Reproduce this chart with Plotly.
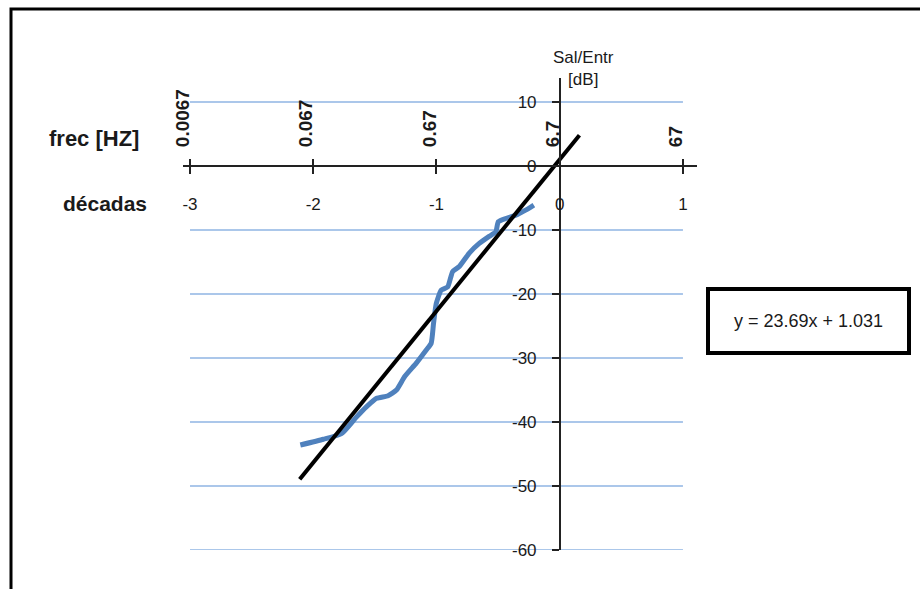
import plotly.graph_objects as go

# ---- data ----
decades = [-3, -2, -1, 0, 1]
freq_labels = ["0.0067", "0.067", "0.67", "6.7", "67"]
y_ticks = [10, 0, -10, -20, -30, -40, -50, -60]

meas_x = [-2.105, -1.917, -1.769, -1.648, -1.567, -1.486, -1.393, -1.325, -1.258,
          -1.164, -1.083, -1.043, -1.024, -1.002, -0.962, -0.909, -0.869, -0.815,
          -0.734, -0.653, -0.573, -0.519, -0.498, -0.438, -0.356, -0.277, -0.210]
meas_y = [-43.6, -42.7, -41.8, -39.2, -37.6, -36.3, -35.9, -35.0, -32.9,
          -30.8, -28.75, -27.7, -24.6, -21.5, -19.4, -18.9, -16.5, -15.7,
          -13.6, -12.1, -11.0, -10.3, -8.7, -8.2, -7.7, -6.9, -6.1]

fit_slope = 23.69
fit_intercept = 1.031
fit_x = [-2.11, 0.16]
fit_y = [fit_slope * v + fit_intercept for v in fit_x]

# ---- layout geometry ----
W, H = 920, 589
ML, MR, MT, MB = 183, 223, 78, 39
X_RANGE = [-3.057, 1.114]
Y_RANGE = [-60, 13.75]
PW, PH = W - ML - MR, H - MT - MB

def px(xp):
    return (xp - ML) / PW

def py(yp):
    return (H - MB - yp) / PH

FONT = "Liberation Sans"
TXT = "#1a1a1a"
GRID = "#8fb4e3"
BLUE = "#4f81bd"

fig = go.Figure()

fig.add_trace(go.Scatter(x=meas_x, y=meas_y, mode="lines",
                         line=dict(color=BLUE, width=5, shape="spline", smoothing=0.5),
                         hoverinfo="skip", showlegend=False))
fig.add_trace(go.Scatter(x=fit_x, y=fit_y, mode="lines",
                         line=dict(color="black", width=4),
                         hoverinfo="skip", showlegend=False))
# invisible trace to carry the top (frequency) axis
fig.add_trace(go.Scatter(x=decades, y=[0] * len(decades), xaxis="x2", mode="markers",
                         marker=dict(opacity=0), hoverinfo="skip", showlegend=False))

# horizontal gridlines between x=-3 and x=1
for v in y_ticks:
    fig.add_shape(type="line", xref="x", yref="y", x0=decades[0], x1=decades[-1],
                  y0=v, y1=v, line=dict(color=GRID, width=1.5), layer="below")

x_pos = (0 - Y_RANGE[0]) / (Y_RANGE[1] - Y_RANGE[0])
y_pos = (0 - X_RANGE[0]) / (X_RANGE[1] - X_RANGE[0])

fig.update_layout(
    width=W, height=H,
    margin=dict(l=ML, r=MR, t=MT, b=MB, pad=0),
    paper_bgcolor="white", plot_bgcolor="white",
    font=dict(family=FONT, color=TXT, size=17),
    xaxis=dict(range=X_RANGE, anchor="free", position=x_pos, showline=True,
               linecolor="#222", linewidth=1.5, ticks="outside", ticklen=7,
               tickcolor="#222", tickwidth=1.5, tickvals=decades,
               ticktext=[str(d) for d in decades], ticklabelstandoff=16,
               showgrid=False, zeroline=False, tickfont=dict(size=17)),
    xaxis2=dict(range=X_RANGE, overlaying="x", side="top", anchor="free",
                position=x_pos, showline=False, ticks="outside", ticklen=7,
                tickcolor="#222", tickwidth=1.5, tickvals=decades,
                ticktext=["<b>%s</b>" % f for f in freq_labels], tickangle=-90,
                ticklabelstandoff=8, ticklabelshift=-7, showgrid=False,
                zeroline=False, tickfont=dict(size=19)),
    yaxis=dict(range=Y_RANGE, anchor="free", position=y_pos, showline=True,
               linecolor="#222", linewidth=1.5, ticks="outside", ticklen=7,
               tickcolor="#222", tickwidth=1.5, tickvals=y_ticks,
               ticktext=[str(v) for v in y_ticks],
               ticklabelstandoff=12, showgrid=False, zeroline=False,
               tickfont=dict(size=17)),
)

ann = []
ann.append(dict(xref="paper", yref="paper", x=px(583), y=py(69),
                xanchor="center", yanchor="middle",
                text="Sal/Entr<br>[dB]", showarrow=False, font=dict(size=17)))
ann.append(dict(xref="paper", yref="paper", x=px(94), y=py(138),
                xanchor="center", yanchor="middle",
                text="<b>frec [HZ]</b>", showarrow=False, font=dict(size=22)))
ann.append(dict(xref="paper", yref="paper", x=px(105), y=py(204),
                xanchor="center", yanchor="middle",
                text="<b>décadas</b>", showarrow=False, font=dict(size=21)))
ann.append(dict(xref="paper", yref="paper", x=px(808.5), y=py(321),
                xanchor="center", yanchor="middle",
                text="y = %.2fx + %.3f" % (fit_slope, fit_intercept), showarrow=False,
                font=dict(size=18), bordercolor="black", borderwidth=4, borderpad=0,
                bgcolor="white", width=197, height=60))
fig.update_layout(annotations=ann)

# outer frame
fig.add_shape(type="rect", xref="paper", yref="paper", x0=px(11), x1=px(935),
              y0=py(600), y1=py(9), line=dict(color="black", width=3))

fig.write_html("out.html", config={"displayModeBar": False},
               post_script="document.body.style.margin='0px';")
